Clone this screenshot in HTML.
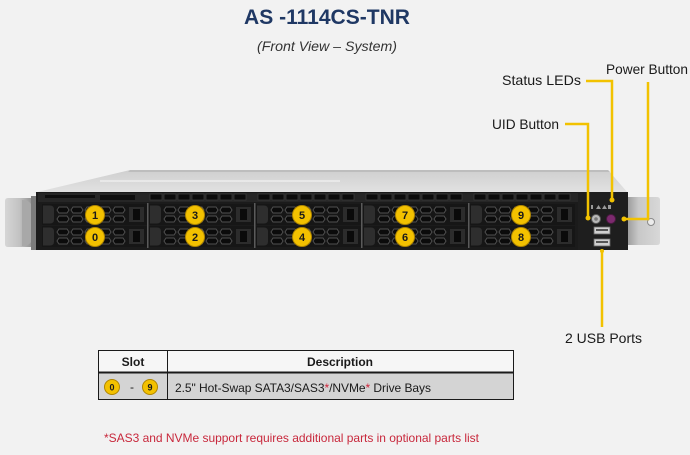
<!DOCTYPE html>
<html>
<head>
<meta charset="utf-8">
<style>
html,body{margin:0;padding:0;background:#f2f2f2;}
body{width:690px;height:455px;overflow:hidden;}
svg{display:block;}
text{font-family:"Liberation Sans",Arial,sans-serif;}
</style>
</head>
<body>
<svg width="690" height="455" viewBox="0 0 690 455" xmlns="http://www.w3.org/2000/svg">
<defs>
  <linearGradient id="topg" x1="0" y1="0" x2="0" y2="1">
    <stop offset="0" stop-color="#cfcfcf"/>
    <stop offset="1" stop-color="#e2e2e2"/>
  </linearGradient>
  <linearGradient id="earL" x1="0" y1="0" x2="1" y2="0">
    <stop offset="0" stop-color="#d6d6d6"/>
    <stop offset="0.5" stop-color="#c2c2c2"/>
    <stop offset="1" stop-color="#8a8a8a"/>
  </linearGradient>
  <linearGradient id="earR" x1="0" y1="0" x2="1" y2="0">
    <stop offset="0" stop-color="#9a9a9a"/>
    <stop offset="0.35" stop-color="#c8c8c8"/>
    <stop offset="1" stop-color="#d8d8d8"/>
  </linearGradient>
  <g id="hx">
    <polygon points="-6,0 -4,-3 4,-3 6,0 4,3 -4,3" fill="#0b0b0b" stroke="#505050" stroke-width="1"/>
  </g>
  <g id="bay">
    <rect x="0" y="0" width="105" height="21" fill="#161616"/>
    <path d="M1 1.5 h7 q4 0 4 4 v10 q0 4 -4 4 h-7 z" fill="#2e2e2e"/>
    <use href="#hx" x="21" y="6"/>
    <use href="#hx" x="35" y="6"/>
    <use href="#hx" x="49" y="6"/>
    <use href="#hx" x="63" y="6"/>
    <use href="#hx" x="77" y="6"/>
    <use href="#hx" x="21" y="15"/>
    <use href="#hx" x="35" y="15"/>
    <use href="#hx" x="49" y="15"/>
    <use href="#hx" x="63" y="15"/>
    <use href="#hx" x="77" y="15"/>
    <rect x="87" y="3" width="15" height="15" fill="#2c2c2c"/>
    <rect x="91" y="5" width="7" height="11" fill="#0a0a0a"/>
  </g>
</defs>

<!-- Title -->
<text x="327" y="24" text-anchor="middle" font-size="21" font-weight="bold" fill="#1f3864" textLength="166" lengthAdjust="spacingAndGlyphs">AS -1114CS-TNR</text>
<text x="327" y="51" text-anchor="middle" font-size="14" font-style="italic" fill="#333333" textLength="140" lengthAdjust="spacingAndGlyphs">(Front View – System)</text>

<!-- Chassis top -->
<polygon points="33,193 130,170 608,170 628,193" fill="url(#topg)"/>
<polygon points="130,170 608,170 610,172 128,172" fill="#bdbdbd"/>
<rect x="100" y="180" width="240" height="2" fill="#f0f0f0" opacity="0.7"/>

<!-- Ears -->
<path d="M8 198 h26 v49 h-26 q-3 0 -3 -3 v-43 q0 -3 3 -3 z" fill="url(#earL)"/>
<path d="M22 200 q8 0 10 6 v34 q-2 6 -10 6 z" fill="#a8a8a8"/>
<rect x="31" y="196" width="6" height="54" fill="#7c7c7c"/>
<path d="M627 197 h30 q3 0 3 3 v42 q0 3 -3 3 h-30 z" fill="url(#earR)"/>
<circle cx="651" cy="222" r="3.5" fill="#ececec" stroke="#8a8a8a" stroke-width="1"/>

<!-- Front panel -->
<rect x="36" y="192" width="592" height="58" fill="#1b1b1b"/>
<rect x="38" y="193" width="588" height="9" fill="#262626"/>
<g fill="#0e0e0e">
  <rect x="45" y="195" width="50" height="3"/>
  <rect x="100" y="195" width="35" height="5"/>
</g>
<g fill="#0c0c0c" stroke="#3a3a3a" stroke-width="0.8">
  <rect x="150" y="194" width="12" height="6"/><rect x="164" y="194" width="12" height="6"/><rect x="178" y="194" width="12" height="6"/><rect x="192" y="194" width="12" height="6"/><rect x="206" y="194" width="12" height="6"/><rect x="220" y="194" width="12" height="6"/><rect x="234" y="194" width="12" height="6"/>
  <rect x="258" y="194" width="12" height="6"/><rect x="272" y="194" width="12" height="6"/><rect x="286" y="194" width="12" height="6"/><rect x="300" y="194" width="12" height="6"/><rect x="314" y="194" width="12" height="6"/><rect x="328" y="194" width="12" height="6"/><rect x="342" y="194" width="12" height="6"/>
  <rect x="366" y="194" width="12" height="6"/><rect x="380" y="194" width="12" height="6"/><rect x="394" y="194" width="12" height="6"/><rect x="408" y="194" width="12" height="6"/><rect x="422" y="194" width="12" height="6"/><rect x="436" y="194" width="12" height="6"/><rect x="450" y="194" width="12" height="6"/>
  <rect x="474" y="194" width="12" height="6"/><rect x="488" y="194" width="12" height="6"/><rect x="502" y="194" width="12" height="6"/><rect x="516" y="194" width="12" height="6"/><rect x="530" y="194" width="12" height="6"/><rect x="544" y="194" width="12" height="6"/><rect x="558" y="194" width="12" height="6"/>
</g>

<!-- Drive bays -->
<use href="#bay" x="42" y="204"/>
<use href="#bay" x="149" y="204"/>
<use href="#bay" x="256" y="204"/>
<use href="#bay" x="363" y="204"/>
<use href="#bay" x="470" y="204"/>
<use href="#bay" x="42" y="226"/>
<use href="#bay" x="149" y="226"/>
<use href="#bay" x="256" y="226"/>
<use href="#bay" x="363" y="226"/>
<use href="#bay" x="470" y="226"/>
<g fill="#5a5a5a">
  <rect x="147" y="203" width="1.5" height="45"/>
  <rect x="254" y="203" width="1.5" height="45"/>
  <rect x="361" y="203" width="1.5" height="45"/>
  <rect x="468" y="203" width="1.5" height="45"/>
</g>

<!-- Control panel -->
<rect x="578" y="192" width="50" height="58" fill="#1e1e1e"/>
<g fill="#9a9a9a">
  <rect x="591" y="205" width="2" height="4"/>
  <polygon points="596,209 598.5,205 601,209"/>
  <polygon points="602,209 604.5,205 607,209"/>
  <rect x="608" y="205" width="3" height="4"/>
</g>
<circle cx="596" cy="219" r="4.5" fill="#b8b8b8" stroke="#5a5a5a" stroke-width="1"/>
<circle cx="596" cy="219" r="1.8" fill="#777"/>
<circle cx="611" cy="219" r="4.5" fill="#7c2a6e" stroke="#4a1a40" stroke-width="1"/>
<rect x="594" y="227" width="16" height="7" fill="#cfcfcf" stroke="#6a6a6a" stroke-width="0.8"/>
<rect x="596" y="229" width="12" height="2" fill="#555"/>
<rect x="594" y="239" width="16" height="7" fill="#cfcfcf" stroke="#6a6a6a" stroke-width="0.8"/>
<rect x="596" y="241" width="12" height="2" fill="#555"/>

<!-- Number circles -->
<g stroke="#b08600" stroke-width="1" fill="#f3c100">
  <circle cx="95" cy="215" r="9.5"/><circle cx="95" cy="237" r="9.5"/>
  <circle cx="195" cy="215" r="9.5"/><circle cx="195" cy="237" r="9.5"/>
  <circle cx="302" cy="215" r="9.5"/><circle cx="302" cy="237" r="9.5"/>
  <circle cx="405" cy="215" r="9.5"/><circle cx="405" cy="237" r="9.5"/>
  <circle cx="521" cy="215" r="9.5"/><circle cx="521" cy="237" r="9.5"/>
</g>
<g font-size="11" font-weight="bold" fill="#1a1a1a" text-anchor="middle">
  <text x="95" y="219">1</text><text x="95" y="241">0</text>
  <text x="195" y="219">3</text><text x="195" y="241">2</text>
  <text x="302" y="219">5</text><text x="302" y="241">4</text>
  <text x="405" y="219">7</text><text x="405" y="241">6</text>
  <text x="521" y="219">9</text><text x="521" y="241">8</text>
</g>

<!-- Callout lines -->
<g fill="none" stroke="#f2c200" stroke-width="2.5" stroke-linejoin="miter">
  <polyline points="586,81 612,81 612,200"/>
  <polyline points="648,82 648,219 624,219"/>
  <polyline points="565,124 588,124 588,218"/>
  <line x1="602" y1="251" x2="602" y2="327"/>
</g>
<g fill="#f2c200">
  <circle cx="612" cy="200" r="2.5"/>
  <circle cx="588" cy="218" r="2.5"/>
  <circle cx="624" cy="219" r="2.5"/>
  <circle cx="602" cy="251" r="2"/>
</g>

<!-- Callout labels -->
<g font-size="14" fill="#1a1a1a">
  <text x="502" y="85" textLength="79" lengthAdjust="spacingAndGlyphs">Status LEDs</text>
  <text x="606" y="74" textLength="82" lengthAdjust="spacingAndGlyphs">Power Button</text>
  <text x="492" y="129" textLength="67" lengthAdjust="spacingAndGlyphs">UID Button</text>
  <text x="565" y="343" textLength="77" lengthAdjust="spacingAndGlyphs">2 USB Ports</text>
</g>

<!-- Table -->
<rect x="98" y="350" width="416" height="22" fill="#f6f6f6"/>
<rect x="98" y="373" width="416" height="27" fill="#d4d4d4"/>
<g stroke="#1a1a1a" fill="none">
  <rect x="98.5" y="350.5" width="415" height="49" stroke-width="1"/>
  <line x1="98" y1="372.5" x2="514" y2="372.5" stroke-width="2"/>
  <line x1="167.5" y1="350" x2="167.5" y2="400" stroke-width="1"/>
</g>
<text x="133" y="366" text-anchor="middle" font-size="12" font-weight="bold" fill="#1a1a1a">Slot</text>
<text x="340" y="366" text-anchor="middle" font-size="12" font-weight="bold" fill="#1a1a1a">Description</text>
<g stroke="#b08600" stroke-width="1" fill="#f3c100">
  <circle cx="112" cy="387" r="7.5"/>
  <circle cx="150" cy="387" r="7.5"/>
</g>
<g font-size="9" font-weight="bold" fill="#1a1a1a" text-anchor="middle">
  <text x="112" y="390.5">0</text>
  <text x="150" y="390.5">9</text>
</g>
<text x="132" y="391" text-anchor="middle" font-size="12" fill="#1a1a1a">-</text>
<text x="175" y="392" font-size="12" fill="#1a1a1a" textLength="256" lengthAdjust="spacing">2.5" Hot-Swap SATA3/SAS3<tspan fill="#d0243a">*</tspan>/NVMe<tspan fill="#d0243a">*</tspan> Drive Bays</text>

<!-- Footnote -->
<text x="104" y="442" font-size="12" fill="#c8283c" textLength="375" lengthAdjust="spacing">*SAS3 and NVMe support requires additional parts in optional parts list</text>
</svg>
</body>
</html>
